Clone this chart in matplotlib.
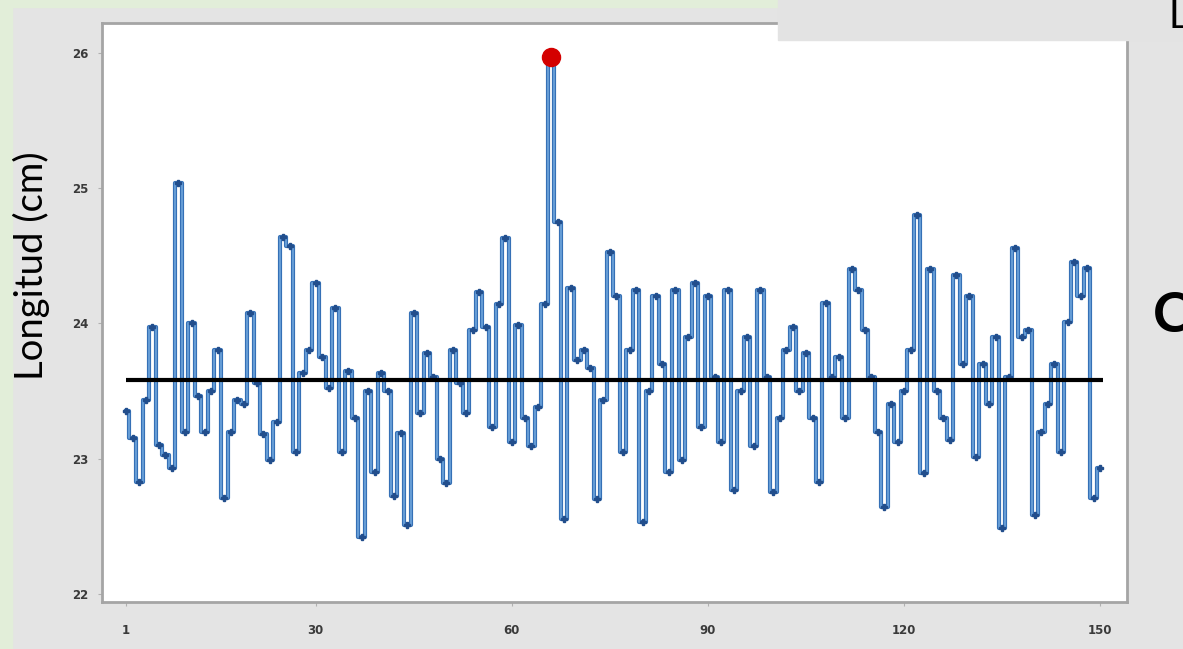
import numpy as np
import matplotlib.pyplot as plt
import matplotlib.patheffects as pe
from matplotlib.patches import Rectangle

# valores (longitud en cm, 150 observaciones)
longitud = [
    23.35, 23.15, 22.83, 23.43, 23.97, 23.10, 23.03, 22.93, 25.04, 23.20,
    24.00, 23.46, 23.20, 23.50, 23.80, 22.71, 23.20, 23.43, 23.40, 24.08,
    23.56, 23.18, 22.99, 23.27, 24.64, 24.57, 23.05, 23.63, 23.80, 24.30,
    23.75, 23.52, 24.11, 23.05, 23.65, 23.30, 22.42, 23.50, 22.90, 23.63,
    23.50, 22.72, 23.19, 22.51, 24.08, 23.34, 23.78, 23.60, 23.00, 22.82,
    23.80, 23.56, 23.34, 23.95, 24.23, 23.97, 23.23, 24.14, 24.63, 23.12,
    23.99, 23.30, 23.09, 23.38, 24.14, 25.97, 24.75, 22.55, 24.26, 23.73,
    23.80, 23.67, 22.70, 23.43, 24.53, 24.20, 23.05, 23.80, 24.25, 22.53,
    23.50, 24.20, 23.70, 22.90, 24.25, 22.99, 23.90, 24.30, 23.23, 24.20,
    23.60, 23.12, 24.25, 22.77, 23.50, 23.90, 23.09, 24.25, 23.60, 22.75,
    23.30, 23.80, 23.97, 23.50, 23.78, 23.30, 22.83, 24.15, 23.60, 23.75,
    23.30, 24.40, 24.25, 23.95, 23.60, 23.20, 22.64, 23.40, 23.12, 23.50,
    23.80, 24.80, 22.89, 24.40, 23.50, 23.30, 23.14, 24.36, 23.70, 24.20,
    23.01, 23.70, 23.40, 23.90, 22.49, 23.60, 24.56, 23.90, 23.95, 22.58,
    23.20, 23.40, 23.70, 23.05, 24.01, 24.45, 24.20, 24.41, 22.71, 22.93,
]
media = 23.58
xticks = [1, 30, 60, 90, 120, 150]
yticks = [22, 23, 24, 25, 26]

obs = np.arange(1, len(longitud) + 1)
pico = int(np.argmax(longitud))

W, H = 1183, 649
fig = plt.figure(figsize=(W / 100, H / 100), dpi=100, facecolor='#e4e4e4')

# franjas verdes del fondo de la diapositiva
fig.patches.append(Rectangle((0, 0), 12 / W, 1, transform=fig.transFigure,
                             color='#e2eed9', zorder=0))
fig.patches.append(Rectangle((0, 1 - 7 / H), 778 / W, 7 / H, transform=fig.transFigure,
                             color='#e2eed9', zorder=0))

ax = fig.add_axes([102 / W, 47 / H, 1025 / W, 579 / H])
ax.set_facecolor('white')

# linea escalonada con borde azul y centro mas claro
ax.plot(obs, longitud, drawstyle='steps-mid', color='#6fa5dc', lw=1.2, zorder=2,
        path_effects=[pe.Stroke(linewidth=3.0, foreground='#3570b6'), pe.Normal()])
ax.plot(obs, longitud, ls='none', marker='P', ms=3.8, mfc='#224e8c', mec='#224e8c', zorder=2)
ax.plot(obs[pico], longitud[pico], 'o', color='#d40000', ms=13, zorder=4)
ax.hlines(media, 1, 150.5, color='black', lw=3, zorder=3)

ax.set_xlim(-2.7, 154.1)
ax.set_ylim(21.94, 26.22)
ax.set_xticks(xticks)
ax.set_yticks(yticks)
ax.tick_params(axis='x', pad=13)
ax.tick_params(axis='y', pad=7)
ax.tick_params(labelsize=8.5, colors='#b0b0b0', labelcolor='#3a3a3a', length=3)
for lab in ax.get_xticklabels() + ax.get_yticklabels():
    lab.set_fontweight('bold')
for s in ax.spines.values():
    s.set_color('#a5a5a5')
    s.set_linewidth(2)

fig.text(31 / W, 1 - 266 / H, 'Longitud (cm)', rotation=90, fontsize=27.5,
         family='Lato', ha='center', va='center')

# recuadro gris de arriba a la derecha y textos cortados por el borde
fig.patches.append(Rectangle((778 / W, 1 - 40 / H), (W - 778) / W, 40 / H,
                             transform=fig.transFigure, color='#e3e3e3', zorder=5))
fig.text(1168 / W, 1 - 28 / H, 'L', fontsize=28, family='Lato',
         ha='left', va='baseline', zorder=6)
fig.text(1153 / W, 1 - 332 / H, 'C', fontsize=40, family='Lato', fontweight='bold',
         ha='left', va='baseline', zorder=6)

fig.savefig('out.png', dpi=100, facecolor=fig.get_facecolor())
